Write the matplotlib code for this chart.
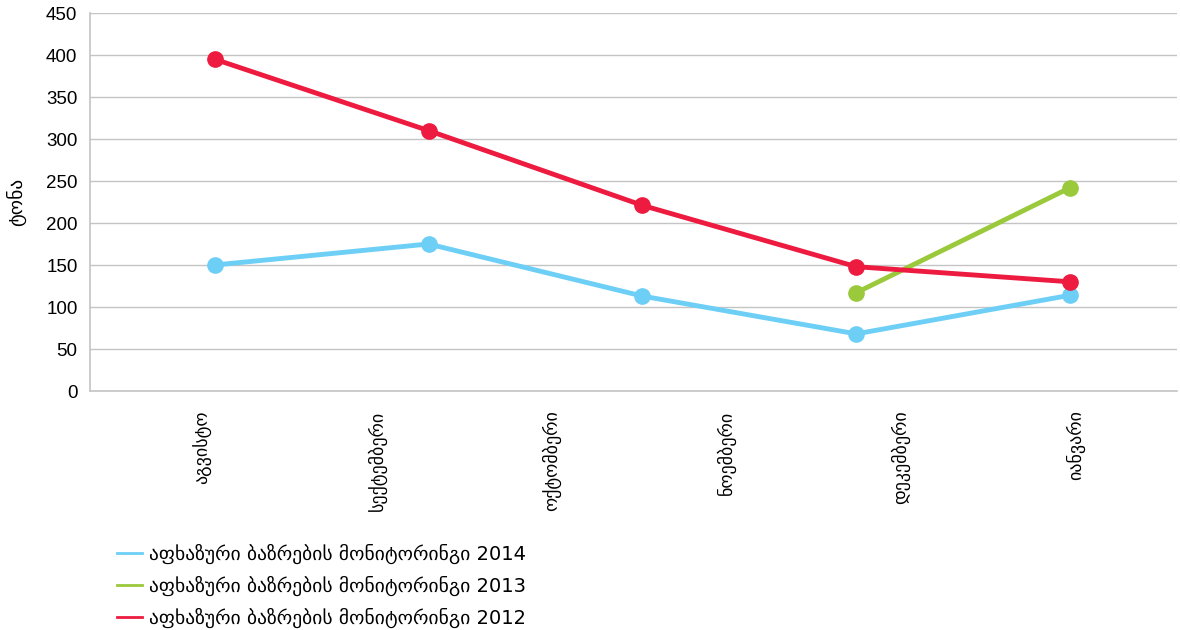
import numpy as np
import matplotlib
matplotlib.use('Agg')
import matplotlib.pyplot as pl

months = ['აგვისტო', 'სექტემბერი', 'ოქტომბერი', 'ნოემბერი', 'დეკემბერი', 'იანვარი']
vals_2014 = [150, 175, 113, 68, 114]
vals_2013 = [117, 242]
vals_2012 = [395, 310, 221, 148, 130]
label_2014 = 'აფხაზური ბაზრების მონიტორინგი 2014'
label_2013 = 'აფხაზური ბაზრების მონიტორინგი 2013'
label_2012 = 'აფხაზური ბაზრების მონიტორინგი 2012'
y_label = 'ტონა'

c_blue = '#6dcff6'
c_green = '#9bc93c'
c_red = '#ed1b3f'

pl.rcParams['font.family'] = ['Liberation Sans', 'DejaVu Sans']

fig = pl.figure(figsize=(11.8, 6.3), dpi=100)
ax = fig.add_axes([90/1180, 1 - 391/630, (1177-90)/1180, (391-13)/630])

idx = np.arange(len(vals_2012))
ax.plot(idx, vals_2014, '-o', color=c_blue, lw=3.5, markersize=11, label=label_2014, zorder=3)
ax.plot(idx[-len(vals_2013):], vals_2013, '-o', color=c_green, lw=3.5, markersize=11, label=label_2013, zorder=3)
ax.plot(idx, vals_2012, '-o', color=c_red, lw=3.5, markersize=11, label=label_2012, zorder=3)

# lines span the axis on their own spacing, month labels on another
ax.set_xlim(-0.583, 4.5)
ax.set_ylim(0, 450)
ax.set_yticks(np.arange(0, 451, 50))
ax.yaxis.grid(True, color='#c4c4c4', lw=1)
ax.set_axisbelow(True)

step = 175 / 214.5
tick_pos = -0.056 + step * np.arange(len(months))
ax.set_xticks(tick_pos)
ax.set_xticklabels(months, rotation=90, fontsize=13, va='top', ha='center',
                   family=['DejaVu Sans'])
ax.tick_params(axis='x', length=0, pad=14)
ax.tick_params(axis='y', length=0, pad=9, labelsize=13.5)

for s in ['top', 'right']:
    ax.spines[s].set_visible(False)
for s in ['left', 'bottom']:
    ax.spines[s].set_color('#c4c4c4')
    ax.spines[s].set_linewidth(1.2)

ax.set_ylabel(y_label, fontsize=14, family=['DejaVu Sans'], labelpad=14)

handles, labels = ax.get_legend_handles_labels()
leg = fig.legend([pl.Line2D([], [], color=h.get_color(), lw=2) for h in handles], labels,
                 loc='upper left', bbox_to_anchor=(103/1180, 1 - 530/630),
                 frameon=False, handlelength=1.3, handletextpad=0.35, labelspacing=0.62,
                 borderpad=0.2, prop={'family': ['DejaVu Sans'], 'size': 14})

fig.savefig('out.png', dpi=100)
pl.close()
